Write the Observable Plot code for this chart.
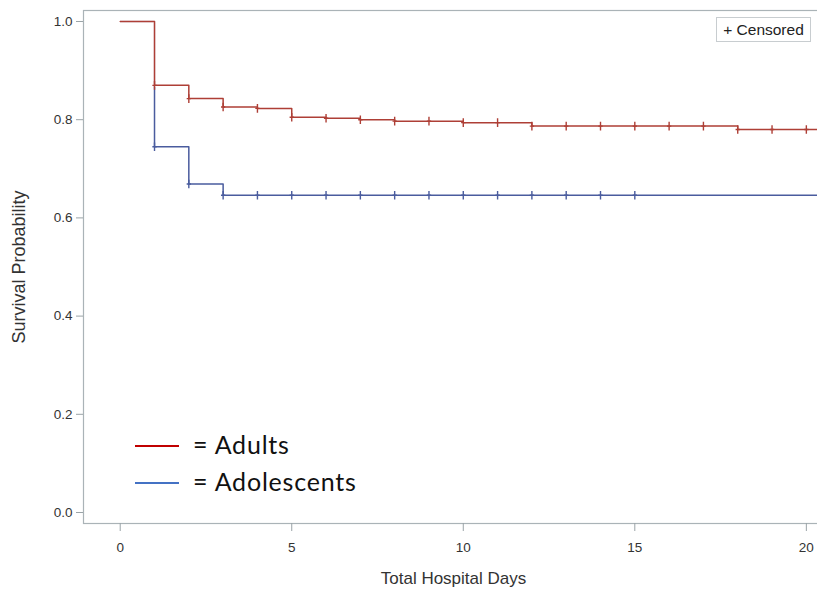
<!DOCTYPE html>
<html>
<head>
<meta charset="utf-8">
<script src="https://cdn.jsdelivr.net/npm/d3@7"></script>
<script src="https://cdn.jsdelivr.net/npm/@observablehq/plot@0.6"></script>
<style>
  html, body { margin: 0; padding: 0; background: #fff; overflow: hidden; width: 817px; height: 590px; }
  #wrap { position: relative; width: 817px; height: 590px; overflow: hidden; }
  #wrap svg { max-width: none !important; display: block; }
  .leg { position: absolute; font-family: Lato, "Open Sans", sans-serif; font-size: 25px; letter-spacing: 0.8px; color: #111; }
  .leg .sw { position: absolute; width: 44px; height: 2px; }
  #cens { position: absolute; left: 716px; top: 17px; width: 95px; height: 25px; box-sizing: border-box;
          border: 1px solid #c8cdd0; font-family: "Liberation Sans", Arial, sans-serif; font-size: 15.5px;
          color: #222; line-height: 23px; text-align: center; background: #fff; }
</style>
</head>
<body>
<div id="wrap"></div>
<script>
// Kaplan-Meier step estimates (time in days, survival probability)
const adultTimes = [0, 1, 2, 3, 4, 5, 6, 7, 8, 10, 12, 18, 21];
const adultSurv  = [1.0, 0.870, 0.843, 0.826, 0.823, 0.805, 0.803, 0.800, 0.797, 0.794, 0.787, 0.780, 0.780];
const adolTimes  = [0, 1, 2, 3, 21];
const adolSurv   = [1.0, 0.745, 0.669, 0.646, 0.646];
// censored observation days
const adultCensored = [1, 2, 3, 4, 5, 6, 7, 8, 9, 10, 11, 12, 13, 14, 15, 16, 17, 18, 19, 20];
const adolCensored  = [1, 2, 3, 4, 5, 6, 7, 8, 9, 10, 11, 12, 13, 14, 15];
const xTicks = [0, 5, 10, 15, 20];
const yTicks = [0, 0.2, 0.4, 0.6, 0.8, 1.0];

const redC = "#AE3F36", blueC = "#4A5C9E";

function stepValue(times, surv, t) {
  let v = surv[0];
  for (let i = 0; i < times.length; i++) if (times[i] <= t) v = surv[i];
  return v;
}
const adult = adultTimes.map((t, i) => ({t, s: adultSurv[i]}));
const adol = adolTimes.map((t, i) => ({t, s: adolSurv[i]}));
const adultCens = adultCensored.map(t => ({t, s: stepValue(adultTimes, adultSurv, t)}));
const adolCens = adolCensored.map(t => ({t, s: stepValue(adolTimes, adolSurv, t)}));

const tickSymbol = {
  draw(ctx, size) {
    const r = Math.sqrt(size / Math.PI);
    ctx.moveTo(0, -r); ctx.lineTo(0, r);
    ctx.moveTo(-r * 0.5, 0); ctx.lineTo(r * 0.5, 0);
  }
};

const chart = Plot.plot({
  width: 823,
  height: 590,
  marginLeft: 83,
  marginRight: 0,
  marginTop: 10,
  marginBottom: 67,
  style: {fontFamily: "'Liberation Sans', Arial, sans-serif", background: "#fff", maxWidth: "none"},
  x: {domain: [-1.07, 20.5]},
  y: {domain: [-0.0224, 1.0224]},
  marks: [
    Plot.frame({stroke: "#aab3b7", strokeWidth: 1.2}),
    Plot.axisX({ticks: xTicks, tickSize: 8, tickPadding: 11, tickFormat: d3.format("d"), stroke: "#9aa3a7",
      fill: "#333", fontSize: 13.5, label: null}),
    Plot.axisX({ticks: [], tickSize: 0, fill: "#333", fontSize: 17, label: "Total Hospital Days",
      labelAnchor: "center", labelArrow: "none", labelOffset: 60}),
    Plot.axisY({ticks: yTicks, tickSize: 7, tickPadding: 4, tickFormat: d3.format(".1f"), stroke: "#9aa3a7",
      fill: "#333", fontSize: 13.5, label: null}),
    Plot.axisY({ticks: [], tickSize: 0, fill: "#333", fontSize: 18, label: "Survival Probability",
      labelAnchor: "center", labelArrow: "none", labelOffset: 71}),
    Plot.line(adol, {x: "t", y: "s", curve: "step-after", stroke: blueC, strokeWidth: 1.5, clip: true}),
    Plot.line(adult, {x: "t", y: "s", curve: "step-after", stroke: "#fff", strokeWidth: 2.6, clip: true}),
    Plot.line(adult, {x: "t", y: "s", curve: "step-after", stroke: redC, strokeWidth: 1.5, clip: true}),
    Plot.dot(adolCens, {x: "t", y: "s", symbol: tickSymbol, r: 4.3, stroke: blueC, strokeWidth: 1.4, fill: "none"}),
    Plot.dot(adultCens, {x: "t", y: "s", symbol: tickSymbol, r: 4.3, stroke: redC, strokeWidth: 1.4, fill: "none"})
  ]
});
const wrap = document.getElementById("wrap");
wrap.appendChild(chart);

const leg = document.createElement("div");
leg.innerHTML = `
  <div class="leg" style="left:135px;top:429px;"><span class="sw" style="left:0;top:16px;background:#c00000"></span><span style="position:absolute;left:58px;top:0;white-space:nowrap">= Adults</span></div>
  <div class="leg" style="left:135px;top:466px;"><span class="sw" style="left:0;top:16px;background:#4472c4"></span><span style="position:absolute;left:58px;top:0;white-space:nowrap">= Adolescents</span></div>
  <div id="cens">+ Censored</div>`;
wrap.appendChild(leg);
</script>
</body>
</html>
